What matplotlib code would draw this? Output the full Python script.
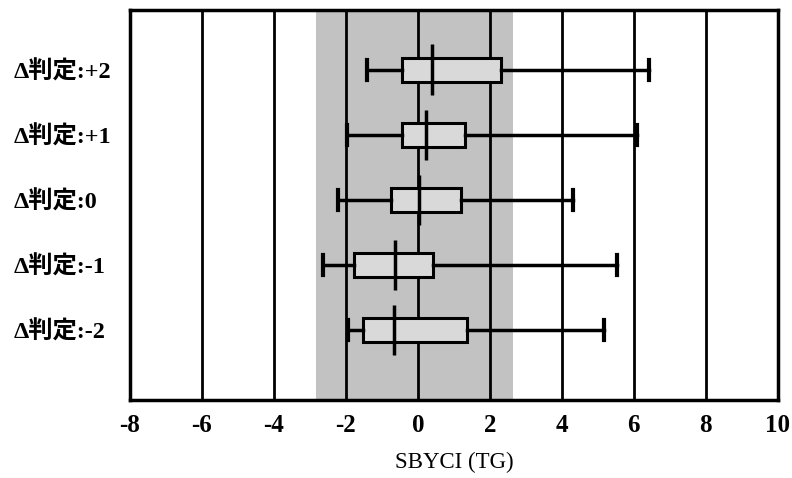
import matplotlib
matplotlib.use("Agg")
import matplotlib.pyplot as plt

categories = ["Δ判定:-2", "Δ判定:-1", "Δ判定:0", "Δ判定:+1", "Δ判定:+2"]
whislo = [-1.94, -2.64, -2.22, -1.97, -1.42]
q1 = [-1.53, -1.78, -0.75, -0.44, -0.44]
med = [-0.67, -0.64, 0.03, 0.22, 0.39]
q3 = [1.36, 0.42, 1.19, 1.31, 2.30]
whishi = [5.17, 5.53, 4.31, 6.10, 6.42]
band = (-2.83, 2.64)
xticks = [-8, -6, -4, -2, 0, 2, 4, 6, 8, 10]

fig = plt.figure(figsize=(7.92, 4.78), dpi=100)
ax = fig.add_axes([0.164, 0.163, 0.818, 0.816])

ax.axvspan(band[0], band[1], color="#c2c2c2", zorder=0, lw=0)
for xv in xticks[1:-1]:
    ax.axvline(xv, color="black", lw=2, zorder=1)

positions = list(range(1, len(categories) + 1))
stats = []
for i in range(len(categories)):
    stats.append(dict(whislo=whislo[i], q1=q1[i], med=med[i], q3=q3[i],
                      whishi=whishi[i], fliers=[], label=categories[i]))

ax.bxp(stats, positions=positions, orientation="horizontal", widths=0.37,
       capwidths=0.3, patch_artist=True, showfliers=False,
       boxprops=dict(facecolor="#d9d9d9", edgecolor="black", linewidth=2.2),
       whiskerprops=dict(color="black", linewidth=2.5),
       capprops=dict(color="black", linewidth=3),
       medianprops=dict(linewidth=0), manage_ticks=False, zorder=3)
ax.vlines(med, [p - 0.39 for p in positions], [p + 0.39 for p in positions],
          color="black", lw=2.5, zorder=4)

ax.set_xlim(-8, 10)
ax.set_ylim(-0.08, 5.92)
ax.set_xticks(xticks)
ax.set_xticklabels([str(t) for t in xticks], family="Liberation Serif",
                   fontsize=18, fontweight="bold")
ax.set_yticks(positions)
ax.set_yticklabels(categories, family=["Liberation Serif", "Noto Sans CJK JP"],
                   fontsize=17.5, fontweight="bold", ha="left")
ax.tick_params(axis="x", length=0, pad=10)
ax.tick_params(axis="y", length=0, pad=84)
for s in ax.spines.values():
    s.set_linewidth(2.5)
ax.set_xlabel("SBYCI (TG)", family="Liberation Serif", fontsize=16.5, labelpad=11)

fig.savefig("out.png", dpi=100)
